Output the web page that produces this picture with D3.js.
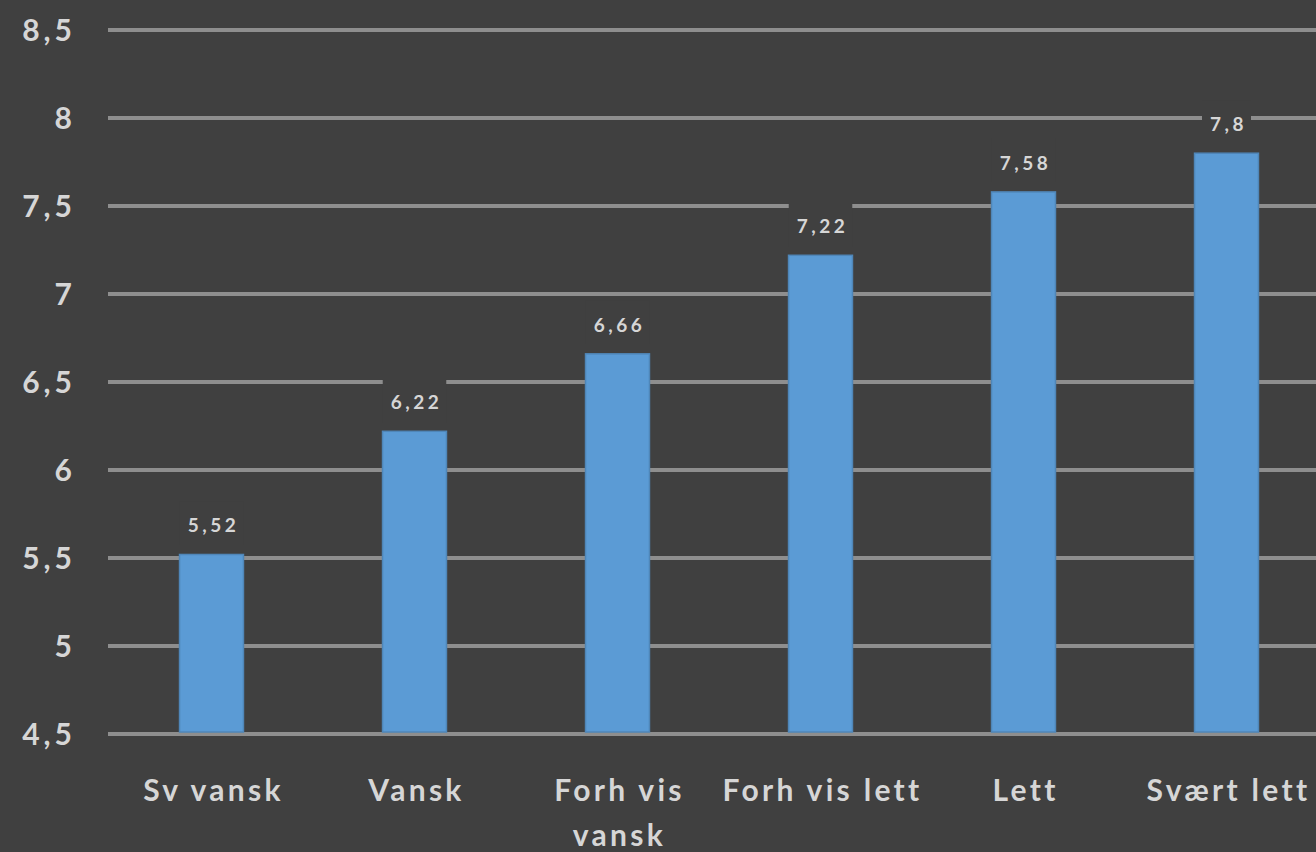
<!DOCTYPE html>
<html>
<head>
<meta charset="utf-8">
<script src="https://cdn.jsdelivr.net/npm/d3@7"></script>
<style>
  html, body { margin: 0; padding: 0; background: #404040; overflow: hidden; }
  svg { display: block; }
</style>
</head>
<body>
<div id="chart"></div>
<script>
// Category names (line breaks where the original wraps)
const categories = ["Sv vansk", "Vansk", "Forh vis|vansk", "Forh vis lett", "Lett", "Svært lett"];
const values = [5.52, 6.22, 6.66, 7.22, 7.58, 7.8];
const valueLabels = ["5,52", "6,22", "6,66", "7,22", "7,58", "7,8"];
const yTicks = [4.5, 5, 5.5, 6, 6.5, 7, 7.5, 8, 8.5];

(function() {
  const width = 1316, height = 852;
  const bg = "#404040";
  const textColor = "#d6d6d6";

  const svg = d3.select("#chart").append("svg")
    .attr("width", width)
    .attr("height", height)
    .style("font-family", "Lato, 'Open Sans', sans-serif");

  svg.append("rect").attr("width", width).attr("height", height).attr("fill", bg);

  const y = d3.scaleLinear().domain([4.5, 8.5]).range([734, 30]);
  const x = d3.scaleBand()
    .domain(categories)
    .range([110, 1328])
    .paddingInner(0.685)
    .paddingOuter(0.3425);

  // gridlines
  svg.append("g").selectAll("line")
    .data(yTicks)
    .join("line")
    .attr("x1", 108).attr("x2", width)
    .attr("y1", d => y(d)).attr("y2", d => y(d))
    .attr("stroke", "#8e8e8e")
    .attr("stroke-width", 4);

  // y tick labels
  svg.append("g").selectAll("text")
    .data(yTicks)
    .join("text")
    .attr("x", 76)
    .attr("y", d => y(d))
    .attr("dy", "0.36em")
    .attr("text-anchor", "end")
    .attr("fill", textColor)
    .style("font-size", "30px")
    .style("font-weight", "700")
    .style("letter-spacing", "4px")
    .text(d => String(d).replace(".", ","));

  const data = categories.map((c, i) => ({ cat: c, value: values[i], label: valueLabels[i] }));

  // bars
  svg.append("g").selectAll("rect")
    .data(data)
    .join("rect")
    .attr("x", d => x(d.cat))
    .attr("width", x.bandwidth())
    .attr("y", d => y(d.value))
    .attr("height", d => y(4.5) - y(d.value) - 2)
    .attr("fill", "#5b9bd5")
    .attr("stroke", "#4f86b8")
    .attr("stroke-width", 1.5);

  // value labels with background boxes that cut the gridlines
  const lab = svg.append("g").selectAll("g")
    .data(data)
    .join("g")
    .attr("transform", d => `translate(${x(d.cat) + x.bandwidth() / 2},${y(d.value) - 29})`);

  lab.append("text")
    .attr("x", 2)
    .attr("text-anchor", "middle")
    .attr("dy", "0.36em")
    .attr("fill", textColor)
    .style("font-size", "19px")
    .style("font-weight", "700")
    .style("letter-spacing", "3.5px")
    .text(d => d.label);

  lab.each(function() {
    const g = d3.select(this);
    const bb = g.select("text").node().getBBox();
    g.insert("rect", "text")
      .attr("x", bb.x - 8)
      .attr("width", bb.width + 12)
      .attr("y", -24)
      .attr("height", 44)
      .attr("fill", bg);
  });

  // category labels
  const cat = svg.append("g").selectAll("text")
    .data(categories)
    .join("text")
    .attr("x", d => x(d) + x.bandwidth() / 2 + 2)
    .attr("y", 801)
    .attr("text-anchor", "middle")
    .attr("fill", textColor)
    .style("font-size", "30px")
    .style("font-weight", "700")
    .style("letter-spacing", "3.3px");

  cat.each(function(d) {
    const lines = d.split("|");
    const t = d3.select(this);
    lines.forEach((ln, i) => {
      t.append("tspan")
        .attr("x", t.attr("x"))
        .attr("dy", i === 0 ? 0 : 45)
        .text(ln);
    });
  });
})();
</script>
</body>
</html>
